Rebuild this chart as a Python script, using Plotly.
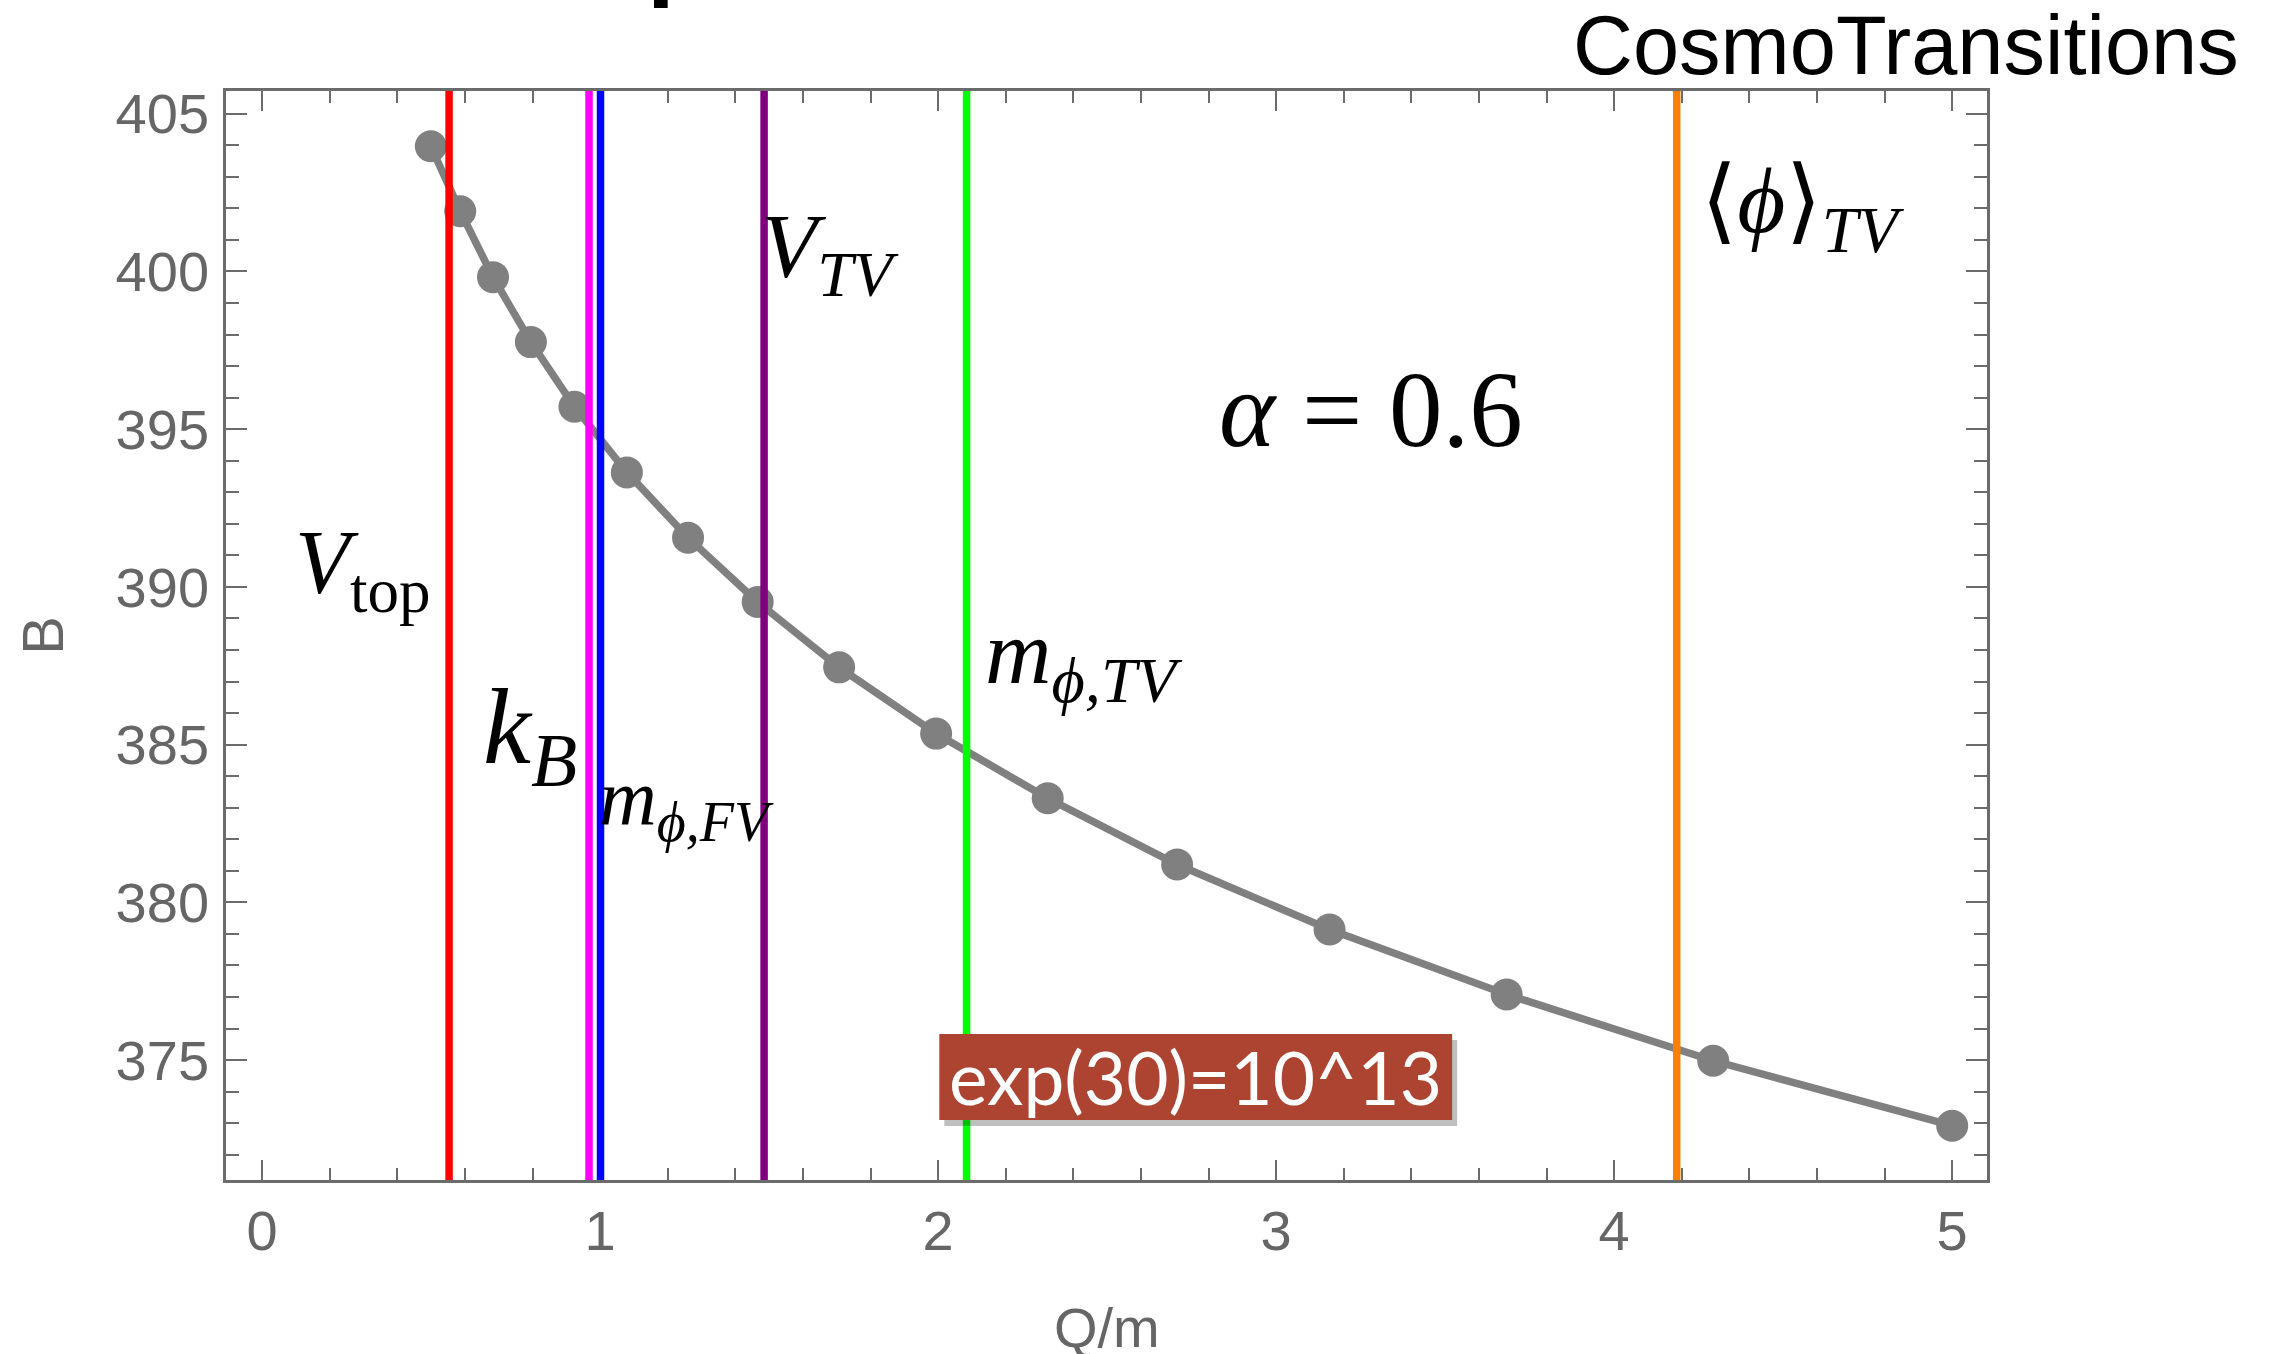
import plotly.graph_objects as go

# ---- data ----
q_over_m = [0.499, 0.586, 0.683, 0.795, 0.924, 1.079, 1.260, 1.466,
            1.707, 1.994, 2.324, 2.707, 3.158, 3.682, 4.293, 5.0]
B_values = [403.97, 401.91, 399.82, 397.76, 395.71, 393.63, 391.56, 389.52,
            387.45, 385.35, 383.30, 381.20, 379.14, 377.08, 374.98, 372.92]

vline_names = ["V_top", "k_B", "m_phi_FV", "V_TV", "m_phi_TV", "phi_TV"]
vline_x = [0.553, 0.967, 1.001, 1.485, 2.084, 4.185]
vline_colors = ["#ff0000", "#ff00ff", "#0000ff", "#800080", "#00ff00", "#ff8000"]

x_tickvals = [0, 1, 2, 3, 4, 5]
y_tickvals = [375, 380, 385, 390, 395, 400, 405]

# ---- layout geometry (pixels) ----
W, H = 2280, 1354
PL, PR, PT, PB = 225.5, 1987.0, 90.7, 1180.0

def xp(px):
    return (px - PL) / (PR - PL)

def yp(py):
    return (PB - py) / (PB - PT)

FRAME = "#6b6b6b"
TXT = "#666666"
SERIF = "Liberation Serif, DejaVu Serif, serif"
SANS = "Liberation Sans, Arial, sans-serif"

fig = go.Figure()
fig.add_trace(go.Scatter(
    x=q_over_m, y=B_values, mode="lines+markers",
    line=dict(color="#808080", width=7.5),
    marker=dict(color="#808080", size=32),
    showlegend=False, cliponaxis=False,
))

shapes = []
for xv, col in zip(vline_x, vline_colors):
    shapes.append(dict(type="line", xref="x", yref="paper", x0=xv, x1=xv, y0=0, y1=1,
                       line=dict(color=col, width=7.5), layer="above"))

# red label box with shadow
bx0, bx1, by0, by1 = 939, 1452, 1034, 1120
shapes.append(dict(type="rect", xref="paper", yref="paper",
                   x0=xp(bx0 + 5), x1=xp(bx1 + 5), y0=yp(by1 + 6), y1=yp(by0 + 6),
                   fillcolor="rgba(0,0,0,0.25)", line=dict(width=0), layer="above"))
shapes.append(dict(type="rect", xref="paper", yref="paper",
                   x0=xp(bx0), x1=xp(bx1), y0=yp(by1), y1=yp(by0),
                   fillcolor="#ad4432", line=dict(width=0), layer="above"))

annotations = []

def label(text, left_px, top_px, size, family=SERIF, color="black"):
    annotations.append(dict(text=text, xref="paper", yref="paper",
                            x=xp(left_px), y=yp(top_px), xanchor="left", yanchor="top",
                            showarrow=False, borderpad=0,
                            font=dict(family=family, size=size, color=color)))

label("<i>V</i><sub>top</sub>", 294, 512, 90)
label("<i>k</i><sub><i>B</i></sub>", 482, 666, 108)
label("<i>m</i><sub><i>ϕ,FV</i></sub>", 598, 752, 80)
label("<i>V</i><sub><i>TV</i></sub>", 760, 194, 92)
label("<i>m</i><sub><i>ϕ,TV</i></sub>", 984, 600, 92)
label("⟨<i>ϕ</i>⟩<sub><i>TV</i></sub>", 1700, 148, 93)
label("<i>α</i> = 0.6", 1218, 350, 107)

annotations.append(dict(text="exp(30)=10^13", xref="paper", yref="paper",
                        x=xp((bx0 + bx1) / 2), y=yp((by0 + by1) / 2),
                        xanchor="center", yanchor="middle", showarrow=False,
                        font=dict(family="Lato, Open Sans, sans-serif", size=73, color="white")))
annotations.append(dict(text="CosmoTransitions", xref="paper", yref="paper",
                        x=xp(2240), y=yp(-2), xanchor="right", yanchor="top",
                        showarrow=False, borderpad=0,
                        font=dict(family=SANS, size=83, color="black")))
annotations.append(dict(text="<b>p</b>", xref="paper", yref="paper",
                        x=xp(646), y=yp(9), xanchor="left", yanchor="bottom",
                        showarrow=False, borderpad=0,
                        font=dict(family=SANS, size=100, color="black")))
# x-axis title, placed like the reference (partly below the page edge)
annotations.append(dict(text="Q/m", xref="paper", yref="paper",
                        x=0.5, y=yp(1295), xanchor="center", yanchor="top",
                        showarrow=False, borderpad=0,
                        font=dict(family=SANS, size=56, color=TXT)))

axis_common = dict(
    showline=True, linecolor=FRAME, linewidth=2.5, mirror="ticks",
    ticks="inside", tickwidth=2, tickcolor=FRAME,
    showgrid=False, zeroline=False, automargin=False,
    tickfont=dict(family=SANS, size=56, color=TXT),
)

fig.update_xaxes(
    **axis_common, range=[-0.107, 5.103], ticklen=20,
    tickvals=x_tickvals, ticktext=[str(v) for v in x_tickvals],
    minor=dict(ticks="inside", ticklen=12, tickwidth=2, tickcolor=FRAME,
               dtick=0.2, tick0=0, showgrid=False),
    ticklabelstandoff=0,
)
fig.update_yaxes(
    **axis_common, range=[371.2, 405.72], ticklen=21,
    tickvals=y_tickvals, ticktext=[str(v) for v in y_tickvals],
    minor=dict(ticks="inside", ticklen=13, tickwidth=2, tickcolor=FRAME,
               dtick=1, tick0=375, showgrid=False),
    ticklabelstandoff=3,
    title=dict(text="B", font=dict(family=SANS, size=58, color=TXT), standoff=34),
)

fig.update_layout(
    width=W, height=H, autosize=False,
    margin=dict(l=PL, r=W - PR, t=PT, b=H - PB, pad=0),
    paper_bgcolor="white", plot_bgcolor="white",
    shapes=shapes, annotations=annotations, showlegend=False,
)

fig.write_html("out.html")
